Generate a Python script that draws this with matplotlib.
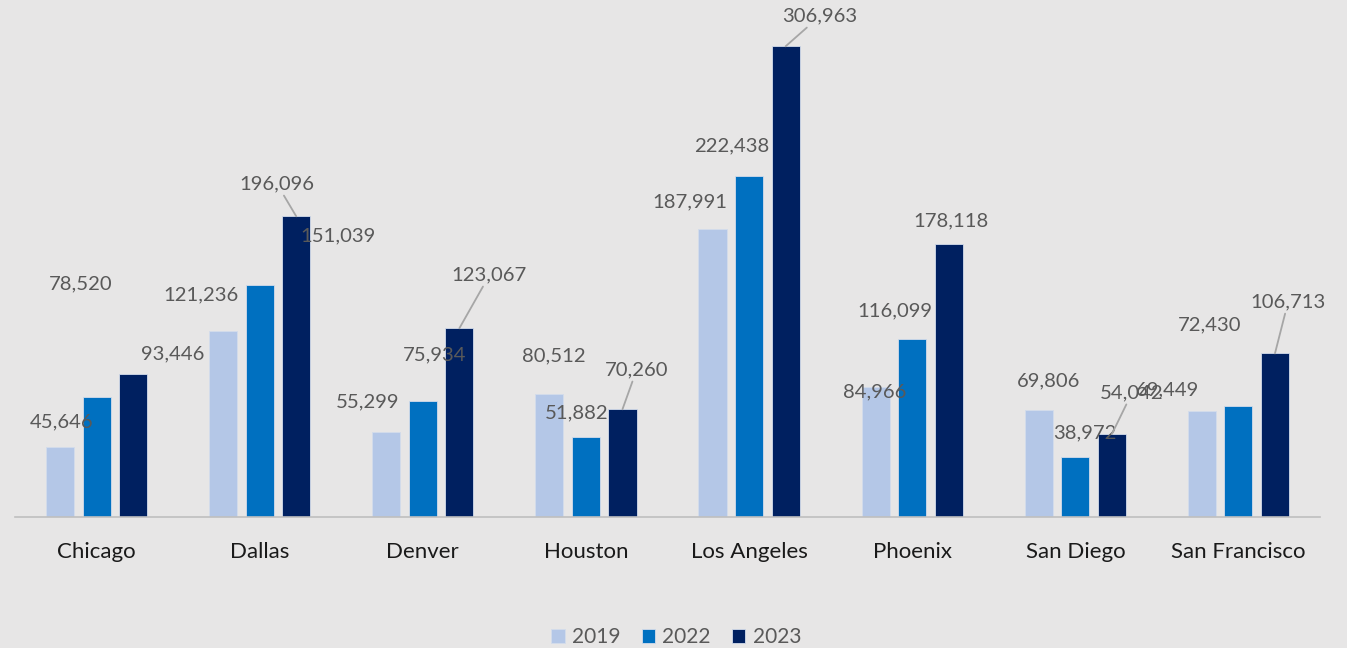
import matplotlib.pyplot as plt
import numpy as np

cities = ['Chicago', 'Dallas', 'Denver', 'Houston', 'Los Angeles', 'Phoenix', 'San Diego', 'San Francisco']
years = ['2019', '2022', '2023']
v2019 = [45646, 121236, 55299, 80512, 187991, 84966, 69806, 69449]
v2022 = [78520, 151039, 75934, 51882, 222438, 116099, 38972, 72430]
v2023 = [93446, 196096, 123067, 70260, 306963, 178118, 54042, 106713]

colors = ['#B4C7E7', '#0070C0', '#002060']
bg = '#E7E6E6'
txt = '#595959'

# label offsets in pixels from the top centre of each bar (as placed in the original)
off2019 = [(2, 25), (-22, 36), (-19, 30), (4, 38), (-23, 27), (-1, -5), (10, 29), (-34, 21)]
off2022 = [(-16, 113), (78, 50), (12, 46), (-9, 25), (-17, 30), (-17, 28), (10, 24), (-29, 81)]
off2023 = [(40, 20), (-19, 32), (30, 53), (14, 39), (34, 30), (2, 23), (20, 41), (13, 51)]
leader2023 = [False, True, True, True, True, False, True, True]

plt.rcParams['font.family'] = ['Lato', 'DejaVu Sans']

fig = plt.figure(figsize=(13.47, 6.48), dpi=100, facecolor=bg)
ax = fig.add_axes([15 / 1347, 131 / 648, 1305 / 1347, 506 / 648])
ax.set_facecolor(bg)

x = np.arange(len(cities))
step = 0.224
width = 0.172
series = [v2019, v2022, v2023]
offsets = [off2019, off2022, off2023]
for i, vals in enumerate(series):
    xs = x + (i - 1) * step
    ax.bar(xs, vals, width, color=colors[i], label=years[i],
           edgecolor='#D3DCEB', linewidth=0.6, zorder=2)
    for j, v in enumerate(vals):
        dx, dy = offsets[i][j]
        props = None
        if i == 2 and leader2023[j]:
            props = dict(arrowstyle='-', color='#A6A6A6', lw=1.3, shrinkA=0, shrinkB=0)
        ax.annotate(f'{v:,}', xy=(xs[j], v), xytext=(dx, dy), textcoords='offset pixels',
                    ha='center', va='center', fontsize=14.6, color=txt, zorder=3,
                    arrowprops=props)

ax.set_xlim(-0.5, 7.5)
ax.set_ylim(0, 330000)
ax.set_xticks(x)
ax.set_xticklabels(cities, fontsize=16, color='#1a1a1a')
ax.tick_params(axis='x', length=0, pad=18)
ax.set_yticks([])
for s in ['top', 'left', 'right']:
    ax.spines[s].set_visible(False)
ax.spines['bottom'].set_color('#BFBFBF')
ax.spines['bottom'].set_linewidth(1.2)

leg = fig.legend(loc='lower center', bbox_to_anchor=(0.502, -0.028), ncol=3, frameon=False,
                 fontsize=15, handlelength=0.65, handleheight=0.65, handletextpad=0.35,
                 columnspacing=1.0)
for t in leg.get_texts():
    t.set_color(txt)

plt.savefig('out.png', dpi=100, facecolor=bg)
